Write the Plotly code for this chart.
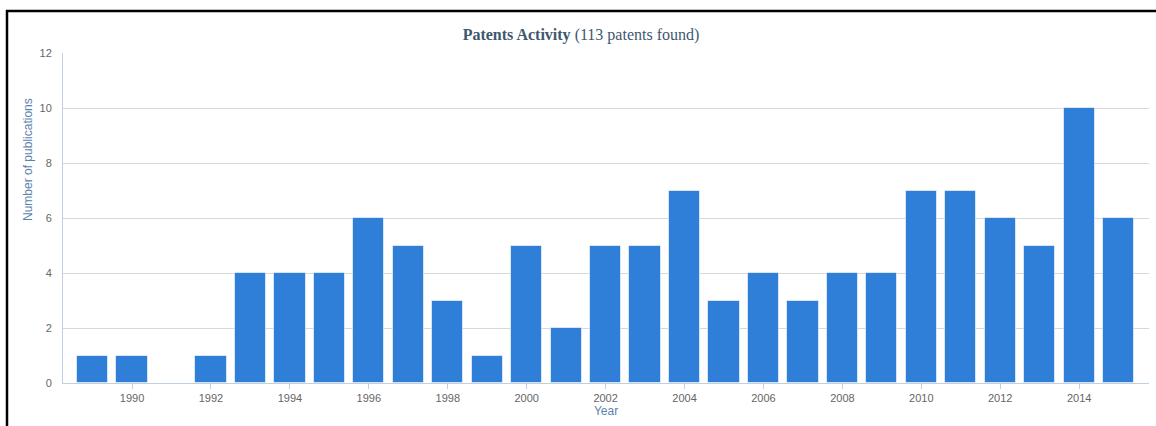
import plotly.graph_objects as go

years = list(range(1989, 2016))
counts = [1, 1, 0, 1, 4, 4, 4, 6, 5, 3, 1, 5, 2, 5, 5, 7, 3, 4, 3, 4, 4, 7, 7, 6, 5, 10, 6]
y_ticks = [0, 2, 4, 6, 8, 10, 12]
title_bold = "Patents Activity"
title_rest = "(113 patents found)"
x_title = "Year"
y_title = "Number of publications"

W, H = 1156, 426
L, R, T, B = 63, 1149, 53, 383

def px(x):
    return (x - L) / (R - L)

def py(y):
    return (B - y) / (B - T)

fig = go.Figure()
fig.add_trace(go.Bar(
    x=years, y=counts, width=0.79,
    marker=dict(color="#2F7ED8", line=dict(color="rgba(255,255,255,0.6)", width=1)),
    hoverinfo="x+y",
))

fig.update_layout(
    width=W, height=H,
    margin=dict(l=L, r=W - R, t=T, b=H - B),
    paper_bgcolor="white", plot_bgcolor="white",
    showlegend=False,
    bargap=0,
    title=dict(
        text=f"<b>{title_bold}</b> {title_rest}",
        x=px(581), xref="paper", xanchor="center",
        y=1 - 34 / H, yref="container", yanchor="middle",
        font=dict(family="Liberation Serif, Times New Roman, serif", size=16, color="#3E576F"),
    ),
    xaxis=dict(
        range=[1988.25, 2015.77],
        tickmode="linear", tick0=1990, dtick=2,
        ticks="outside", ticklen=5, tickcolor="#C0D0E0", tickwidth=1,
        showline=True, linecolor="#C0D0E0", linewidth=1,
        showgrid=False, zeroline=False,
        tickfont=dict(family="Liberation Sans, Arial, sans-serif", size=11, color="#666666"),
        title=dict(text=x_title, standoff=2,
                   font=dict(family="Liberation Sans, Arial, sans-serif", size=12, color="#5B82AD")),
    ),
    yaxis=dict(
        range=[0, 12], tickvals=y_ticks,
        showline=True, linecolor="#C0D0E0", linewidth=1,
        showgrid=True, gridcolor="#D8D8D8", gridwidth=1,
        zeroline=False, ticks="", ticklabelstandoff=8,
        tickfont=dict(family="Liberation Sans, Arial, sans-serif", size=11, color="#666666"),
    ),
    annotations=[dict(
        text=y_title, textangle=-90,
        x=px(28), y=py(160), xref="paper", yref="paper",
        xanchor="center", yanchor="middle", showarrow=False,
        font=dict(family="Liberation Sans, Arial, sans-serif", size=12, color="#5B82AD"),
    )],
    shapes=[
        dict(type="line", xref="paper", yref="paper",
             x0=px(6), x1=px(1160), y0=py(11), y1=py(11),
             line=dict(color="black", width=2.5)),
        dict(type="line", xref="paper", yref="paper",
             x0=px(7), x1=px(7), y0=py(10), y1=py(430),
             line=dict(color="black", width=2.5)),
    ],
)

fig.write_html("out.html",
               config={"displayModeBar": False},
               post_script="document.body.style.margin='0';document.body.style.overflow='hidden';")
